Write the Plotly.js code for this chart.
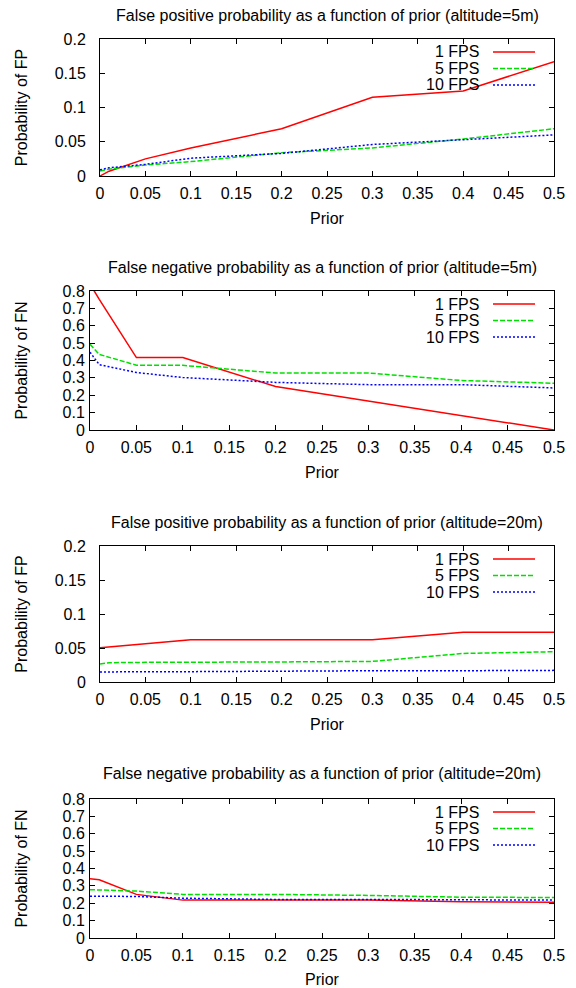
<!DOCTYPE html>
<html>
<head>
<meta charset="utf-8">
<script src="https://cdn.plot.ly/plotly-3.0.1.min.js"></script>
<style>html,body{margin:0;padding:0;background:#fff;}#chart{width:576px;height:988px;}</style>
</head>
<body>
<div id="chart"></div>
<script>
// ---- data ----
const prior = [0, 0.01, 0.05, 0.1, 0.2, 0.3, 0.4, 0.5];
const seriesNames = ["1 FPS", "5 FPS", "10 FPS"];

const fp5m_1fps  = [0, 0.007, 0.025, 0.041, 0.069, 0.115, 0.124, 0.167];
const fp5m_5fps  = [0.0074, 0.010, 0.016, 0.021, 0.034, 0.041, 0.054, 0.069];
const fp5m_10fps = [0.0090, 0.012, 0.017, 0.026, 0.033, 0.046, 0.053, 0.060];

const fn5m_1fps  = [0.84, 0.752, 0.417, 0.417, 0.250, 0.167, 0.083, 0.0];
const fn5m_5fps  = [0.493, 0.435, 0.373, 0.372, 0.328, 0.328, 0.285, 0.269];
const fn5m_10fps = [0.448, 0.376, 0.331, 0.302, 0.274, 0.261, 0.261, 0.242];

const fp20m_1fps  = [0.0504, 0.0516, 0.0562, 0.062, 0.062, 0.062, 0.073, 0.073];
const fp20m_5fps  = [0.0264, 0.0284, 0.0289, 0.0289, 0.0295, 0.0303, 0.042, 0.0445];
const fp20m_10fps = [0.0147, 0.0150, 0.0152, 0.0152, 0.0161, 0.0166, 0.0166, 0.0171];

const fn20m_1fps  = [0.341, 0.335, 0.251, 0.218, 0.218, 0.218, 0.208, 0.206];
const fn20m_5fps  = [0.278, 0.276, 0.270, 0.251, 0.251, 0.245, 0.235, 0.233];
const fn20m_10fps = [0.241, 0.240, 0.239, 0.229, 0.222, 0.222, 0.220, 0.218];

const panelTitles = [
  "False positive probability as a function of prior (altitude=5m)",
  "False negative probability as a function of prior (altitude=5m)",
  "False positive probability as a function of prior (altitude=20m)",
  "False negative probability as a function of prior (altitude=20m)"
];
const yTitles = ["Probability of FP", "Probability of FN", "Probability of FP", "Probability of FN"];
const xTitle = "Prior";

// ---- styling / layout ----
const W = 576, H = 988;
const colors = ["#ff0000", "#00e000", "#0000ff"];
const dashes = ["solid", "5px,2px", "2px,2px"];
const panelData = [
  [fp5m_1fps, fp5m_5fps, fp5m_10fps],
  [fn5m_1fps, fn5m_5fps, fn5m_10fps],
  [fp20m_1fps, fp20m_5fps, fp20m_10fps],
  [fn20m_1fps, fn20m_5fps, fn20m_10fps]
];
const yRanges = [[0, 0.2], [0, 0.8], [0, 0.2], [0, 0.8]];
const yDticks = [0.05, 0.1, 0.05, 0.1];
// plot boxes in pixels: [left, right, top, bottom]
const boxes = [[100, 554, 39, 176], [90, 554, 291, 430], [100, 554, 546, 682], [90, 554, 799, 938]];
const titleY = [15, 267, 522, 773];
const yLabelStandoff = [10, 1, 10, 1];
const yTitleStandoff = [23, 30, 23, 30];

const px = x => x / W;
const py = y => 1 - y / H;
const FONT = "Liberation Sans, Arial, Helvetica, sans-serif";

const traces = [];
const layout = {
  width: W, height: H,
  margin: {l: 0, r: 0, t: 0, b: 0},
  paper_bgcolor: "#fff", plot_bgcolor: "#fff",
  font: {family: FONT, color: "#000", size: 16},
  showlegend: false,
  annotations: [], shapes: []
};

panelData.forEach((series, i) => {
  const n = i + 1;
  const sfx = n === 1 ? "" : String(n);
  const b = boxes[i];
  series.forEach((vals, k) => {
    traces.push({
      x: prior, y: vals, type: "scatter", mode: "lines",
      name: seriesNames[k],
      xaxis: "x" + sfx, yaxis: "y" + sfx,
      line: {color: colors[k], width: 1.5, dash: dashes[k]},
      hoverinfo: "skip"
    });
  });
  const common = {
    showline: true, linecolor: "#000", linewidth: 1, mirror: "ticks",
    ticks: "inside", ticklen: 5, tickcolor: "#000", tickwidth: 1,
    showgrid: false, zeroline: false, automargin: false,
    tickfont: {size: 16, family: FONT}
  };
  layout["xaxis" + sfx] = Object.assign({}, common, {
    domain: [px(b[0]), px(b[1])], anchor: "y" + sfx,
    range: [0, 0.5], tick0: 0, dtick: 0.05, ticklabelstandoff: 3,
    title: {text: xTitle, font: {size: 16, family: FONT}, standoff: 11}
  });
  layout["yaxis" + sfx] = Object.assign({}, common, {
    domain: [py(b[3]), py(b[2])], anchor: "x" + sfx,
    range: yRanges[i], tick0: 0, dtick: yDticks[i],
    ticklabelstandoff: yLabelStandoff[i],
    title: {text: yTitles[i], font: {size: 16, family: FONT}, standoff: yTitleStandoff[i]}
  });
  layout.annotations.push({
    text: panelTitles[i], xref: "paper", yref: "paper",
    x: px((b[0] + b[1]) / 2), y: py(titleY[i]), xanchor: "center", yanchor: "middle",
    showarrow: false, font: {size: 16, family: FONT}
  });
  // gnuplot-style key: label then line sample
  seriesNames.forEach((nm, k) => {
    const rowY = b[2] + 13 + k * 16.5;
    layout.annotations.push({
      text: nm, xref: "paper", yref: "paper", x: px(481), y: py(rowY),
      xanchor: "right", yanchor: "middle", showarrow: false,
      font: {size: 16, family: FONT}
    });
    layout.shapes.push({
      type: "line", xref: "paper", yref: "paper",
      x0: px(493), x1: px(535), y0: py(rowY), y1: py(rowY),
      line: {color: colors[k], width: 1.5, dash: dashes[k]}
    });
  });
});

Plotly.newPlot("chart", traces, layout, {staticPlot: true, displayModeBar: false});
</script>
</body>
</html>
